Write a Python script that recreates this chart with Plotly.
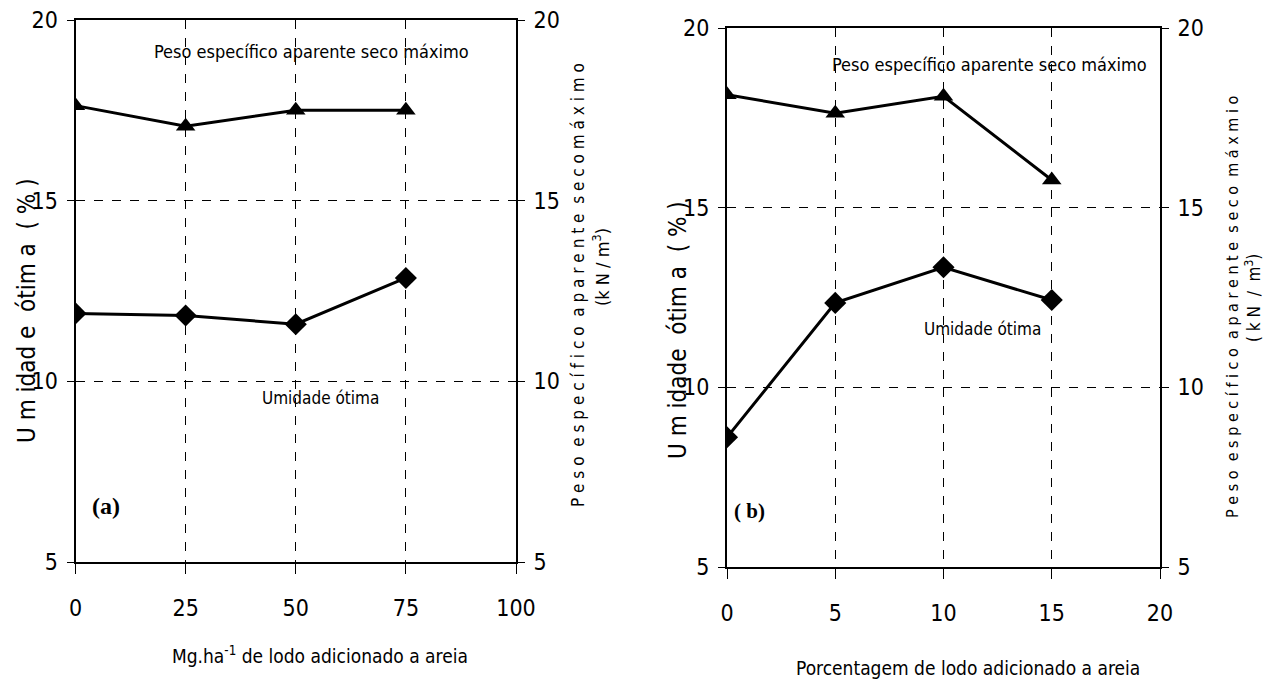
import plotly.graph_objects as go

# ---- data ----
x_a = [0, 25, 50, 75]
peso_a = [17.63, 17.06, 17.5, 17.5]
umid_a = [11.88, 11.82, 11.58, 12.86]

x_b = [0, 5, 10, 15]
peso_b = [18.14, 17.63, 18.1, 15.77]
umid_b = [8.61, 12.35, 13.34, 12.43]

xticks_a = [0, 25, 50, 75, 100]
xticks_b = [0, 5, 10, 15, 20]
yticks = [5, 10, 15, 20]

FONT = "DejaVu Sans Condensed, Liberation Sans Narrow, Arial Narrow, sans-serif"
SERIF = "Liberation Serif, Times New Roman, serif"
W, H = 1270, 684

def px(x):
    return x / W

def py(y):
    return 1 - y / H

fig = go.Figure()

line = dict(color="black", width=3)
fig.add_trace(go.Scatter(x=x_a, y=peso_a, mode="lines+markers", line=line,
                         marker=dict(symbol="triangle-up", size=17, color="black"),
                         xaxis="x", yaxis="y2", showlegend=False))
fig.add_trace(go.Scatter(x=x_a, y=umid_a, mode="lines+markers", line=line,
                         marker=dict(symbol="diamond", size=17, color="black"),
                         xaxis="x", yaxis="y", showlegend=False))
fig.add_trace(go.Scatter(x=x_b, y=peso_b, mode="lines+markers", line=line,
                         marker=dict(symbol="triangle-up", size=17, color="black"),
                         xaxis="x2", yaxis="y4", showlegend=False))
fig.add_trace(go.Scatter(x=x_b, y=umid_b, mode="lines+markers", line=line,
                         marker=dict(symbol="diamond", size=17, color="black"),
                         xaxis="x2", yaxis="y3", showlegend=False))

tickfont = dict(family=FONT, size=23, color="black")

def xax(dom, ticks, anchor):
    return dict(domain=dom, range=[ticks[0], ticks[-1]], tickvals=ticks,
                showline=True, linecolor="black", linewidth=2, mirror=True,
                ticks="outside", ticklen=10, tickwidth=1, tickcolor="black",
                showgrid=True, gridcolor="black", gridwidth=1, griddash="dash",
                zeroline=False, tickfont=tickfont, anchor=anchor,
                ticklabelstandoff=14, fixedrange=True, automargin=False)

def yax(dom, anchor, side="left", overlay=None):
    d = dict(domain=dom, range=[5, 20], tickvals=yticks,
             showline=True, linecolor="black", linewidth=2,
             ticks="outside", ticklen=7, tickwidth=1, tickcolor="black",
             zeroline=False, tickfont=tickfont, anchor=anchor, side=side,
             ticklabelstandoff=4, fixedrange=True, automargin=False)
    if overlay:
        d.update(overlaying=overlay, showgrid=False)
    else:
        d.update(showgrid=True, gridcolor="black", gridwidth=1, griddash="dash")
    return d

xa_dom = [px(75.5), px(516)]
ya_dom = [py(562), py(20)]
xb_dom = [px(727), px(1160)]
yb_dom = [py(567), py(28)]

fig.update_layout(
    width=W, height=H,
    margin=dict(l=0, r=0, t=0, b=0, autoexpand=False),
    paper_bgcolor="white", plot_bgcolor="white",
    xaxis=xax(xa_dom, xticks_a, "y"),
    yaxis=yax(ya_dom, "x"),
    yaxis2=yax(ya_dom, "x", side="right", overlay="y"),
    xaxis2=xax(xb_dom, xticks_b, "y3"),
    yaxis3=yax(yb_dom, "x2"),
    yaxis4=yax(yb_dom, "x2", side="right", overlay="y3"),
)

ann = []
def A(text, x, y, size=20, angle=0, family=FONT, **kw):
    ann.append(dict(text=text, x=px(x), y=py(y), xref="paper", yref="paper",
                    showarrow=False, textangle=angle, xanchor="center", yanchor="middle",
                    font=dict(family=family, size=size, color="black"), **kw))

# panel a
A("Peso específico aparente seco máximo", 311, 51, size=18)
A("Umidade ótima", 320, 398, size=17)
A("<b>(a)</b>", 106, 506, size=24, family=SERIF)
A("U m idad e  ótim a  ( % )", 27, 311, size=24, angle=-90)
A("P e s o  e s p e c í f i c o  a p a r e n t e  s e c o m á x i m o", 578, 285, size=17, angle=-90)
A("(k N / m<sup>3</sup>)", 601, 267, size=18, angle=-90)
A("Mg.ha<sup>-1</sup> de lodo adicionado a areia", 320, 655, size=19)

# panel b
A("Peso específico aparente seco máximo", 990, 64, size=18)
A("Umidade ótima", 982, 329, size=17)
A("<b>( b)</b>", 749, 511, size=21, family=SERIF)
A("U m idade  ótim a  ( % )", 678, 330, size=24, angle=-90)
A("P e s o  e s p e c í f i c o  a p a r e n t e  s e c o  m á x m i o", 1232, 307, size=16, angle=-90)
A("( k N  /  m<sup>3</sup>)", 1253, 298, size=17, angle=-90)
A("Porcentagem de lodo adicionado a areia", 968, 668, size=19)

fig.update_layout(annotations=ann)

fig.write_html("out.html")
